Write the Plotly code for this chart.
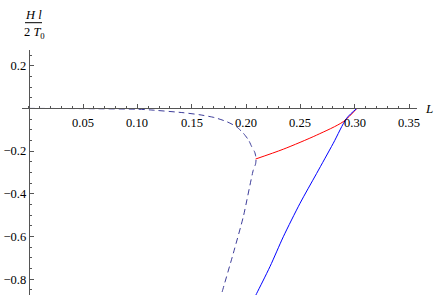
import plotly.graph_objects as go

# ---- data ----
dashed_L = [0, 0.05, 0.1006, 0.1116, 0.1420, 0.1576, 0.171, 0.1822, 0.191, 0.1975,
            0.2025, 0.2052, 0.208, 0.2092, 0.2088, 0.2067, 0.1975, 0.1883, 0.1776, 0.1745]
dashed_H = [0, -0.001, -0.004, -0.007, -0.020, -0.030, -0.043, -0.062, -0.085, -0.116,
            -0.150, -0.179, -0.205, -0.233, -0.260, -0.288, -0.507, -0.678, -0.866, -0.92]

red_L = [0.2088, 0.2343, 0.2650, 0.2895, 0.302]
red_H = [-0.237, -0.191, -0.125, -0.062, 0.0]

blue_L = [0.302, 0.2926, 0.2803, 0.2650, 0.2497, 0.2343, 0.2220, 0.2098, 0.2067]
blue_H = [0.0, -0.046, -0.163, -0.304, -0.444, -0.601, -0.741, -0.866, -0.897]

x_ticks = [0.05, 0.10, 0.15, 0.20, 0.25, 0.30, 0.35]
x_ticklabels = ["0.05", "0.10", "0.15", "0.20", "0.25", "0.30", "0.35"]
y_ticks = [0.2, -0.2, -0.4, -0.6, -0.8]
y_ticklabels = ["0.2", "\u22120.2", "\u22120.4", "\u22120.6", "\u22120.8"]

W, H = 436, 295
X0PX, XSCALE = 28.7, 1086.7
Y0PX, YSCALE = 108.4, 213.6
AXIS_COL = "#555555"
FONT = "Liberation Serif"

fig = go.Figure()
fig.add_trace(go.Scatter(x=dashed_L, y=dashed_H, mode="lines",
                         line=dict(color="#3d3d99", width=1, dash="6px,4px",
                                   shape="spline", smoothing=0.6),
                         showlegend=False, hoverinfo="skip"))
fig.add_trace(go.Scatter(x=red_L, y=red_H, mode="lines",
                         line=dict(color="#ff0000", width=1, shape="spline", smoothing=0.8),
                         showlegend=False, hoverinfo="skip"))
fig.add_trace(go.Scatter(x=blue_L, y=blue_H, mode="lines",
                         line=dict(color="#0000ff", width=1, shape="spline", smoothing=0.8),
                         showlegend=False, hoverinfo="skip"))

xl_px, xr_px = 22, 416.7
yt_px, yb_px = 50, 295
xrange = [(xl_px - X0PX) / XSCALE, (xr_px - X0PX) / XSCALE]
yrange = [-(yb_px - Y0PX) / YSCALE, (Y0PX - yt_px) / YSCALE]

# x tick labels placed just below the crossing axis
xlabel_anns = [
    dict(text=t, xref="x", yref="paper", x=v, y=1 - 122.5 / H, showarrow=False,
         xanchor="center", yanchor="middle",
         font=dict(family=FONT, size=12.5, color="black"))
    for v, t in zip(x_ticks, x_ticklabels)
]

fig.update_layout(
    template="none",
    width=W, height=H,
    margin=dict(l=0, r=0, t=0, b=0, pad=0, autoexpand=False),
    paper_bgcolor="white", plot_bgcolor="white",
    font=dict(family=FONT, size=12.5, color="black"),
    xaxis=dict(
        domain=[xl_px / W, xr_px / W], range=xrange, automargin=False,
        anchor="free", position=1 - Y0PX / H, side="bottom",
        showgrid=False, zeroline=False,
        showline=True, linecolor=AXIS_COL, linewidth=1,
        tickmode="array", tickvals=x_ticks, ticktext=x_ticklabels,
        showticklabels=False,
        ticks="inside", ticklen=4.5, tickwidth=1, tickcolor=AXIS_COL,
        minor=dict(dtick=0.01, tick0=0, ticks="inside", ticklen=2.5,
                   tickwidth=1, tickcolor=AXIS_COL, showgrid=False),
    ),
    yaxis=dict(
        domain=[1 - yb_px / H, 1 - yt_px / H], range=yrange, automargin=False,
        anchor="free", position=X0PX / W, side="left",
        showgrid=False, zeroline=False,
        showline=True, linecolor=AXIS_COL, linewidth=1,
        tickmode="array", tickvals=y_ticks, ticktext=y_ticklabels,
        ticks="inside", ticklen=4.5, tickwidth=1, tickcolor=AXIS_COL,
        minor=dict(dtick=0.05, tick0=0, ticks="inside", ticklen=2.5,
                   tickwidth=1, tickcolor=AXIS_COL, showgrid=False),
        tickfont=dict(family=FONT, size=12.5, color="black"),
    ),
    annotations=xlabel_anns + [
        dict(text="<i>L</i>", xref="paper", yref="paper",
             x=435 / W, y=1 - 108.5 / H, showarrow=False,
             xanchor="right", yanchor="middle",
             font=dict(family=FONT, size=13, color="black")),
        dict(text="<i>H l</i>", xref="paper", yref="paper",
             x=33.5 / W, y=1 - 14.5 / H, showarrow=False,
             xanchor="center", yanchor="middle",
             font=dict(family=FONT, size=12.5, color="black")),
        dict(text="2 <i>T</i><sub>0</sub>", xref="paper", yref="paper",
             x=34 / W, y=1 - 33 / H, showarrow=False,
             xanchor="center", yanchor="middle",
             font=dict(family=FONT, size=12.5, color="black")),
    ],
    shapes=[
        dict(type="line", xref="paper", yref="paper",
             x0=25 / W, x1=42 / W, y0=1 - 22.7 / H, y1=1 - 22.7 / H,
             line=dict(color="black", width=1)),
    ],
)

fig.write_html(
    "out.html",
    include_plotlyjs=True,
    config={"displayModeBar": False},
    post_script="document.body.style.margin='0';document.body.style.padding='0';"
                "document.body.style.overflow='hidden';",
)
